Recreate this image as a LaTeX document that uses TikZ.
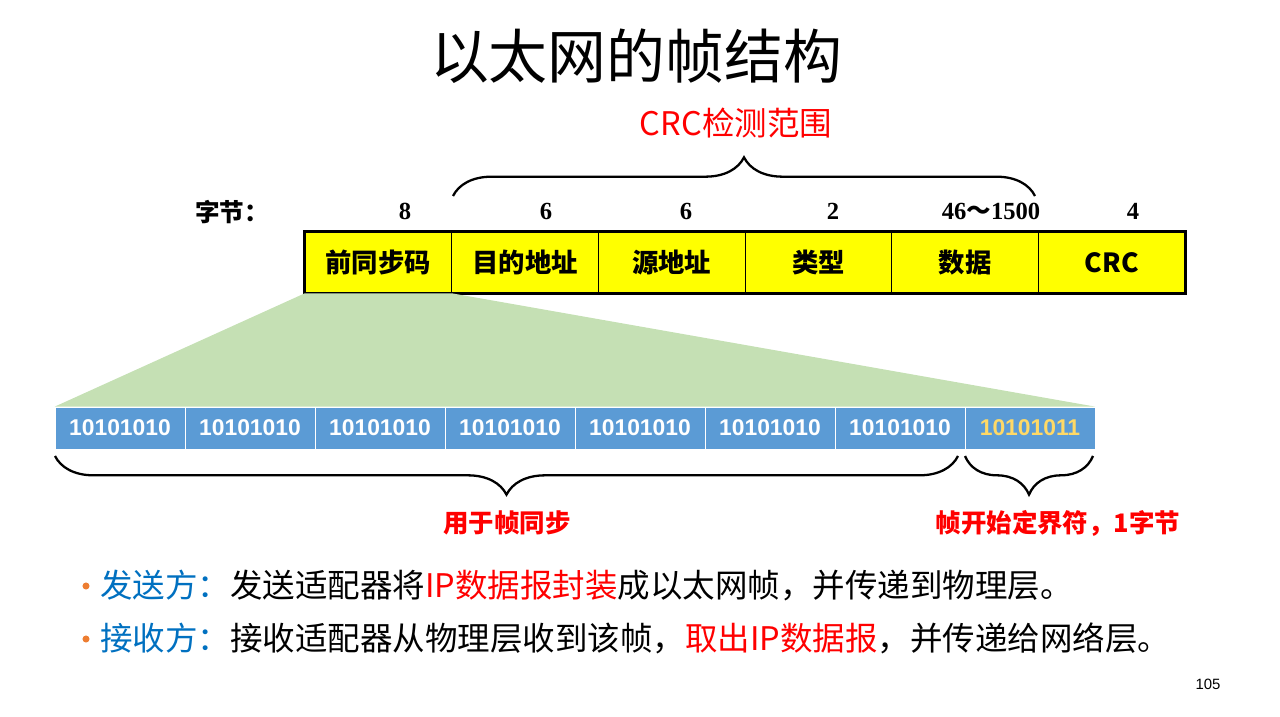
\documentclass[tikz,border=0pt]{standalone}
\usepackage{fontspec}
\setmainfont{Noto Sans CJK SC}
\newfontfamily\numfont{Liberation Serif}
\newfontfamily\bitfont{Liberation Sans}
\usepackage{tikz}
\usetikzlibrary{decorations.pathreplacing}
\definecolor{fieldyellow}{HTML}{FFFF00}
\definecolor{octetblue}{HTML}{5B9BD5}
\definecolor{sfdgold}{HTML}{FFD966}
\definecolor{zoomgreen}{HTML}{C5E0B4}
\definecolor{noteblue}{HTML}{0070C0}
\definecolor{bulletorange}{HTML}{ED7D31}

\begin{document}
\begin{tikzpicture}[x=0.02cm, y=-0.02cm,
  field/.style={rectangle, draw=black, thin, fill=fieldyellow, minimum width=2.933cm,
    minimum height=1.22cm, inner sep=0pt, font=\fontsize{15}{18}\selectfont\bfseries},
  octet/.style={rectangle, draw=white, thin, fill=octetblue, minimum width=2.6cm,
    minimum height=0.84cm, inner sep=0pt, text=white, font=\bitfont\fontsize{13}{15}\selectfont\bfseries},
  bytes/.style={font=\numfont\fontsize{14}{16}\selectfont\bfseries},
  brace/.style={decorate, decoration={brace, amplitude=#1}, line width=1.3pt},
  redlbl/.style={text=red, font=\fontsize{14.5}{17}\selectfont\bfseries},
  note/.style={anchor=west, font=\fontsize{18.5}{22}\selectfont},
  dot/.style={circle, fill=bulletorange, inner sep=0pt, minimum size=4pt},
]
\useasboundingbox (0,0) rectangle (1280,716);

\node[font=\fontsize{33.5}{40}\selectfont] (title) at (636,56) {以太网的帧结构};

\foreach \lab [count=\i] in {前同步码,目的地址,源地址,类型,数据,CRC}
  \node[field] (f\i) at ({305+146.67*(\i-0.5)},262.5) {\lab};
\draw[line width=1.6pt] (f1.north west) rectangle (f6.south east);

\node[font=\fontsize{14}{16}\selectfont\bfseries] (bytes) at (232,212) {字节：};
\node[bytes] (n1) at (405,211) {8};
\node[bytes] (n2) at (546,211) {6};
\node[bytes] (n3) at (686,211) {6};
\node[bytes] (n4) at (833,211) {2};
\node[bytes] (n5) at (991,211) {46{\rmfamily ～}1500};
\node[bytes] (n6) at (1133,211) {4};

\coordinate (crcL) at (453,196);
\coordinate (crcR) at (1035,196);
\draw[brace=22pt] (crcL) -- (crcR);
\node[text=red, font=\fontsize{18.5}{22}\selectfont] (crc) at (736,123) {CRC检测范围};

\foreach \i in {1,...,7}
  \node[octet] (o\i) at ({55+130*(\i-0.5)},428) {10101010};
\node[octet, text=sfdgold] (o8) at ({55+130*7.5},428) {10101011};

\fill[zoomgreen] (f1.south west) -- (f1.south east) -- (o8.north east) -- (o1.north west) -- cycle;

\coordinate (syncL) at (55,456);
\coordinate (syncR) at (958,456);
\coordinate (sfdL) at (965,456);
\coordinate (sfdR) at (1093,456);
\draw[brace=22pt] (syncR) -- (syncL);
\draw[brace=22pt] (sfdR) -- (sfdL);
\node[redlbl] (sync) at (507,523) {用于帧同步};
\node[redlbl] (sfd) at (1058,523) {帧开始定界符，1字节};

\node[dot] (d1) at (86,586) {};
\node[note] (s1) at (94,585) {\textcolor{noteblue}{发送方：}发送适配器将\textcolor{red}{IP数据报封装}成以太网帧，并传递到物理层。};
\node[dot] (d2) at (86,639) {};
\node[note] (s2) at (94,638) {\textcolor{noteblue}{接收方：}接收适配器从物理层收到该帧，\textcolor{red}{取出IP数据报}，并传递给网络层。};

\node[font=\bitfont\fontsize{8.5}{10}\selectfont] (page) at (1208,684) {105};
\end{tikzpicture}
\end{document}
